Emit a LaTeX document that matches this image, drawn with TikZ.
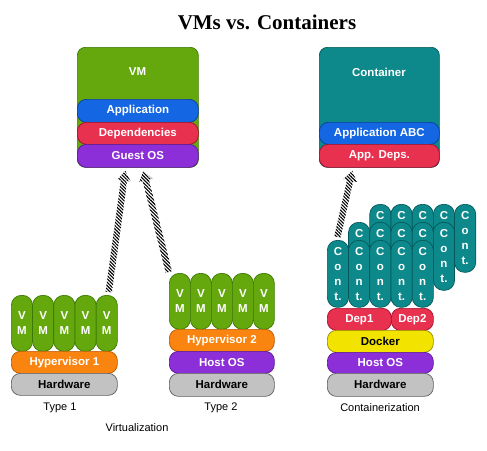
\documentclass[tikz,border=0pt]{standalone}
\usepackage{fontspec}
\setmainfont{Liberation Serif}
\setsansfont{Liberation Sans}
\usetikzlibrary{calc,patterns.meta}
\definecolor{vmgreen}{HTML}{64A80E}
\definecolor{vmgreenD}{HTML}{3A7A00}
\definecolor{cblue}{HTML}{1466E2}
\definecolor{cblueD}{HTML}{0A3E9C}
\definecolor{cred}{HTML}{E8304F}
\definecolor{credD}{HTML}{A0102C}
\definecolor{cpurple}{HTML}{8C2FD8}
\definecolor{cpurpleD}{HTML}{5A1890}
\definecolor{corange}{HTML}{F98410}
\definecolor{corangeD}{HTML}{B85800}
\definecolor{cgray}{HTML}{C2C2C2}
\definecolor{cgrayD}{HTML}{5E5E5E}
\definecolor{cyellow}{HTML}{F2E400}
\definecolor{cyellowD}{HTML}{938A00}
\definecolor{cteal}{HTML}{0D898B}
\definecolor{ctealD}{HTML}{04585A}
\newcommand{\hatcharrow}[2]{%
  \coordinate (habase) at ($(#2)!10pt!(#1)$);
  \fill[hatch] ($(#1)!3.2pt!90:(#2)$) -- ($(habase)!3.2pt!90:(#2)$) -- ($(habase)!6.8pt!90:(#2)$) -- (#2)
    -- ($(habase)!6.8pt!-90:(#2)$) -- ($(habase)!3.2pt!-90:(#2)$) -- ($(#1)!3.2pt!-90:(#2)$) -- cycle;}
\newcommand{\hiddencont}{C\\\vphantom{o}\\\vphantom{n}\\\vphantom{t.}}
\begin{document}
\begin{tikzpicture}[x=1pt,y=-1pt,
  layer/.style={rounded corners=9pt, draw, line width=0.7pt, inner sep=0pt, anchor=north west,
    text=white, font=\sffamily\bfseries\fontsize{11.5}{13}\selectfont},
  pillv/.style={layer, rounded corners=10pt, align=center, font=\sffamily\bfseries\fontsize{11.5}{15}\selectfont},
  vmc/.style={fill=vmgreen, draw=vmgreenD},
  bluec/.style={fill=cblue, draw=cblueD},
  redc/.style={fill=cred, draw=credD},
  purc/.style={fill=cpurple, draw=cpurpleD},
  orac/.style={fill=corange, draw=corangeD},
  grac/.style={fill=cgray, draw=cgrayD, text=black},
  yelc/.style={fill=cyellow, draw=cyellowD, text=black},
  teac/.style={fill=cteal, draw=ctealD},
  caption/.style={font=\sffamily\fontsize{11}{13}\selectfont, text=black, inner sep=0pt},
  boxtitle/.style={font=\sffamily\bfseries\fontsize{11.5}{13}\selectfont, text=white, inner sep=0pt},
  hatch/.style={pattern={Lines[angle=-45,distance=2.4pt,line width=1.1pt]}}
]
\useasboundingbox[fill=white] (0,0) rectangle (487,450);

\node[font=\bfseries\fontsize{21}{24}\selectfont, inner sep=0pt] (title) at (267,22) {VMs vs. Containers};

% VM box
\node[layer, vmc, rounded corners=8pt, minimum width=121pt, minimum height=120pt] (vmbox) at (77,47) {};
\node[boxtitle] (vmtitle) at (137.5,72) {VM};
\node[layer, bluec, minimum width=121pt, minimum height=23pt] (vmapp) at (77,99) {Application};
\node[layer, redc, minimum width=121pt, minimum height=22pt] (vmdeps) at (77,122) {Dependencies};
\node[layer, purc, minimum width=121pt, minimum height=23pt] (guestos) at (77,144) {Guest OS};

% Container box
\node[layer, teac, rounded corners=8pt, minimum width=120pt, minimum height=120pt] (cbox) at (319,47) {};
\node[boxtitle] (ctitle) at (379,72) {Container};
\node[layer, bluec, minimum width=120pt, minimum height=22pt] (capp) at (319,122) {Application ABC};
\node[layer, redc, minimum width=120pt, minimum height=23pt] (cdeps) at (319,144) {App. Deps.};

% Type 1
\foreach \i in {1,...,5}
  \node[pillv, vmc, minimum width=21.2pt, minimum height=56pt] (t1vm\i) at ({11+21.2*(\i-1)},295) {V\\M};
\node[layer, orac, minimum width=106pt, minimum height=22pt] (hyp1) at (11,351) {Hypervisor 1};
\node[layer, grac, minimum width=106pt, minimum height=22pt] (hw1) at (11,373) {Hardware};
\node[caption] (type1) at (60,408) {Type 1};

% Type 2
\foreach \i in {1,...,5}
  \node[pillv, vmc, minimum width=21pt, minimum height=56pt] (t2vm\i) at ({169+21*(\i-1)},273) {V\\M};
\node[layer, orac, minimum width=105pt, minimum height=22pt] (hyp2) at (169,329) {Hypervisor 2};
\node[layer, purc, minimum width=105pt, minimum height=22pt] (host2) at (169,351) {Host OS};
\node[layer, grac, minimum width=105pt, minimum height=23pt] (hw2) at (169,373) {Hardware};
\node[caption] (type2) at (221,408) {Type 2};

\node[caption] (virt) at (137,428) {Virtualization};

% Containerization (back, middle, front rows)
\foreach \i in {1,...,4}
  \node[pillv, teac, minimum width=21.2pt, minimum height=68pt] (cb\i) at ({369.4+21.2*(\i-1)},204) {\hiddencont};
\node[pillv, teac, minimum width=21.2pt, minimum height=68pt] (cb5) at (454.2,204) {C\\o\\n\\t.};
\foreach \i in {1,...,4}
  \node[pillv, teac, minimum width=21.2pt, minimum height=68pt] (cm\i) at ({348.2+21.2*(\i-1)},222) {\hiddencont};
\node[pillv, teac, minimum width=21.2pt, minimum height=68pt] (cm5) at (433,222) {C\\o\\n\\t.};
\foreach \i in {1,...,5}
  \node[pillv, teac, minimum width=21.2pt, minimum height=67pt] (cf\i) at ({327+21.2*(\i-1)},240) {C\\o\\n\\t.};
\node[layer, redc, minimum width=64pt, minimum height=22pt] (dep1) at (327,308) {Dep1};
\node[layer, redc, minimum width=42pt, minimum height=22pt] (dep2) at (391,308) {Dep2};
\node[layer, yelc, minimum width=106pt, minimum height=22pt] (docker) at (327,330) {Docker};
\node[layer, purc, minimum width=106pt, minimum height=21pt] (host3) at (327,352) {Host OS};
\node[layer, grac, minimum width=106pt, minimum height=23pt] (hw3) at (327,373) {Hardware};
\node[caption] (contz) at (380,408) {Containerization};

% Arrows
\coordinate (a1s) at ($(t1vm5.north)+(2,-3)$);
\coordinate (a1t) at ($(guestos.south)+(-12.5,3)$);
\coordinate (a2s) at ($(t2vm1.north)+(-11,-1)$);
\coordinate (a2t) at ($(guestos.south)+(5.5,3)$);
\coordinate (a3s) at ($(cf1.north)+(-0.5,-3)$);
\coordinate (a3t) at ($(cdeps.south)+(-27,3)$);
\hatcharrow{a1s}{a1t}
\hatcharrow{a2s}{a2t}
\hatcharrow{a3s}{a3t}
\end{tikzpicture}
\end{document}
